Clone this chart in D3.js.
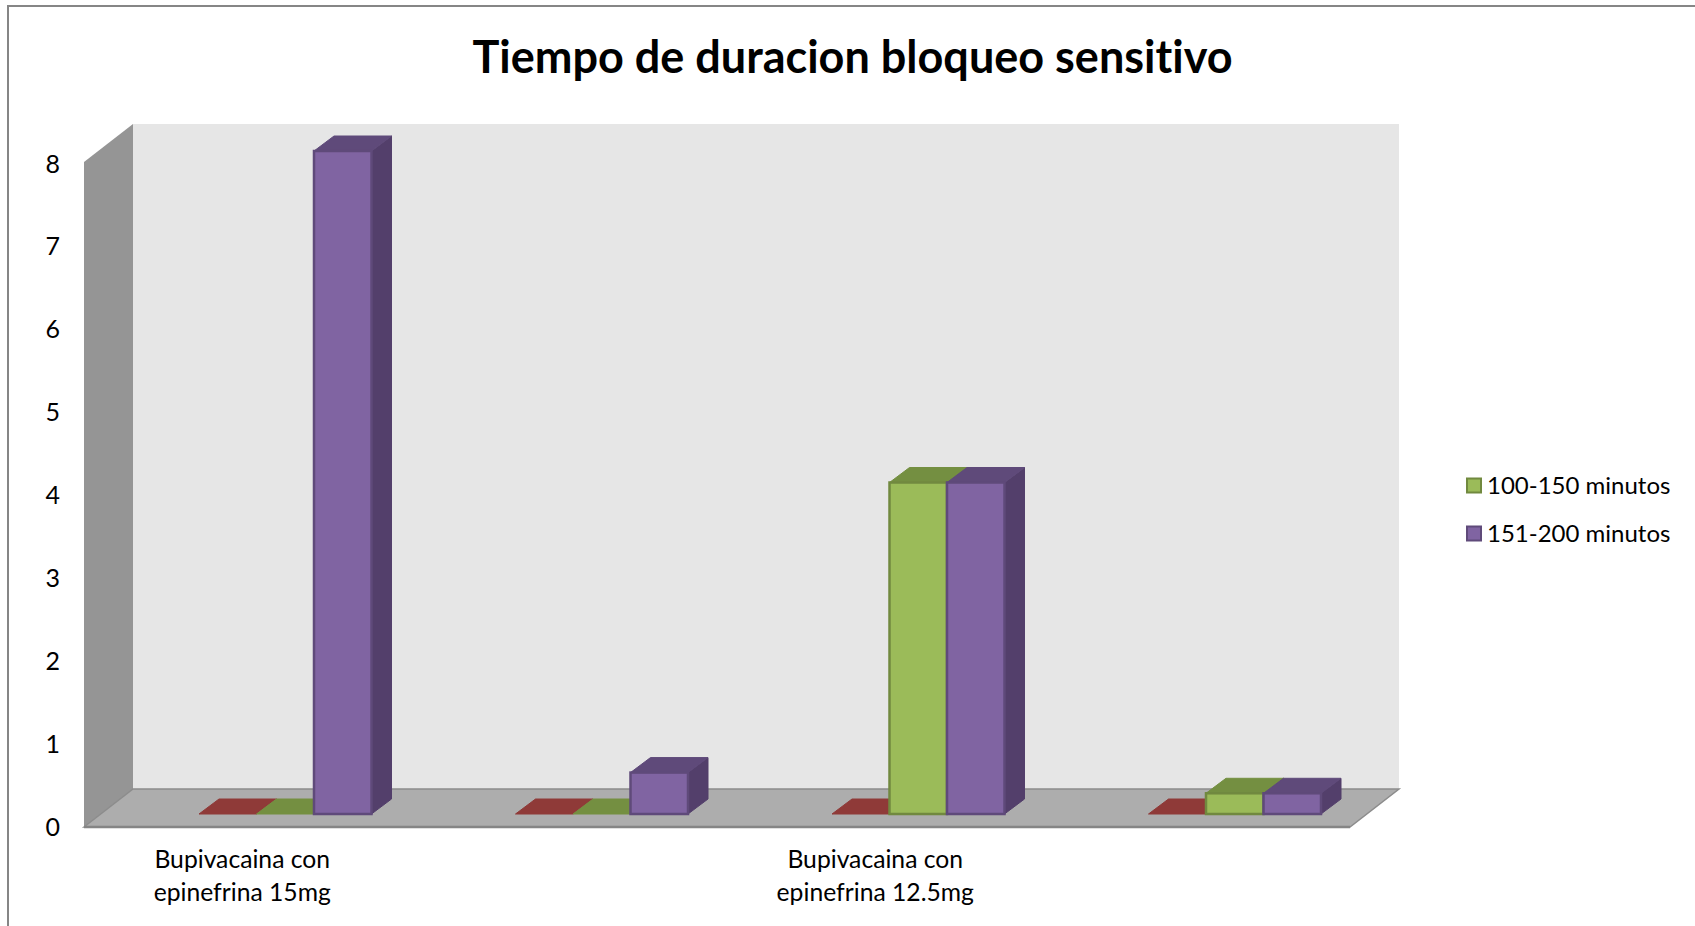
<!DOCTYPE html>
<html>
<head>
<meta charset="utf-8">
<script src="https://cdn.jsdelivr.net/npm/d3@7"></script>
<style>
  body { margin: 0; background: #fff; }
  text { font-family: Lato, "Open Sans", sans-serif; fill: #000; font-variant-ligatures: none; }
</style>
</head>
<body>
<div id="chart"></div>
<script>
const categories = ['cat1', 'cat2', 'cat3', 'cat4'];
const categoryLabels = [
	['Bupivacaina con', 'epinefrina 15mg'],
	[],
	['Bupivacaina con', 'epinefrina 12.5mg'],
	[],
];
const seriesNames = ['Serie 1', '100-150 minutos', '151-200 minutos'];
const redValues = [0, 0, 0, 0];
const greenValues = [0, 0, 4, 0.25];
const purpleValues = [8, 0.5, 4, 0.25];
const yTicks = [0, 1, 2, 3, 4, 5, 6, 7, 8];

const WIDTH = 1695;
const HEIGHT = 926;

// Floor and walls
const FLOOR_LEFT = 84;
const FLOOR_RIGHT = 1350;
const FLOOR_FRONT_Y = 827;
const TOP_FRONT_Y = 164;
const WALL_TOP_FRONT_Y = 162;
const DEPTH_X = 49;
const DEPTH_Y = 38;

// Bars stand a little way back from the front of the floor
const BAR_INSET_X = 43;
const BAR_INSET_Y = 13;
const BAR_DEPTH_X = 20;
const BAR_DEPTH_Y = 15;
const BAR_WIDTH = 57.5;

const colors = [
	{ front: '#c0504d', side: '#7f3735', top: '#8f3a38', stroke: '#a04744' },
	{ front: '#9bbb59', side: '#68803c', top: '#748f41', stroke: '#71893f' },
	{ front: '#8064a2', side: '#533f6b', top: '#5f4a7a', stroke: '#5f4a7a' },
];

const points = pts => pts.map(p => p.join(',')).join(' ');

const svg = d3.select('#chart').append('svg')
	.attr('width', WIDTH)
	.attr('height', HEIGHT)
	.style('display', 'block');

// Outer frame, runs off the right and bottom of the picture
svg.append('path')
	.attr('d', `M8,${HEIGHT + 2}V6H${WIDTH + 2}`)
	.attr('fill', 'none')
	.attr('stroke', '#868686')
	.attr('stroke-width', 2);

svg.append('text')
	.attr('x', 852.5)
	.attr('y', 73)
	.attr('text-anchor', 'middle')
	.style('font-size', '45px')
	.style('font-weight', 700)
	.text('Tiempo de duracion bloqueo sensitivo');

const y = d3.scaleLinear().domain([0, 8]).range([FLOOR_FRONT_Y, TOP_FRONT_Y]);
const x = d3.scaleBand().domain(categories).range([FLOOR_LEFT, FLOOR_RIGHT]);

// Back wall
svg.append('polygon')
	.attr('points', points([
		[FLOOR_LEFT + DEPTH_X, WALL_TOP_FRONT_Y - DEPTH_Y],
		[FLOOR_RIGHT + DEPTH_X, WALL_TOP_FRONT_Y - DEPTH_Y],
		[FLOOR_RIGHT + DEPTH_X, y(0) - DEPTH_Y],
		[FLOOR_LEFT + DEPTH_X, y(0) - DEPTH_Y],
	]))
	.attr('fill', '#e6e6e6');

// Left wall
svg.append('polygon')
	.attr('points', points([
		[FLOOR_LEFT, WALL_TOP_FRONT_Y],
		[FLOOR_LEFT + DEPTH_X, WALL_TOP_FRONT_Y - DEPTH_Y],
		[FLOOR_LEFT + DEPTH_X, y(0) - DEPTH_Y],
		[FLOOR_LEFT, y(0)],
	]))
	.attr('fill', '#959595');

// Floor
svg.append('polygon')
	.attr('points', points([
		[FLOOR_LEFT, y(0)],
		[FLOOR_LEFT + DEPTH_X, y(0) - DEPTH_Y],
		[FLOOR_RIGHT + DEPTH_X, y(0) - DEPTH_Y],
		[FLOOR_RIGHT, y(0)],
	]))
	.attr('fill', '#adadad')
	.attr('stroke', '#8c8c8c')
	.attr('stroke-width', 1.5);

svg.append('line')
	.attr('x1', FLOOR_LEFT)
	.attr('x2', FLOOR_RIGHT)
	.attr('y1', y(0))
	.attr('y2', y(0))
	.attr('stroke', '#858585')
	.attr('stroke-width', 2.5);

// Bars, left to right so each one covers the side of the one before
const valuesBySeries = [redValues, greenValues, purpleValues];
const barHeight = v => y(0) - y(v);

const bars = categories.flatMap((category, categoryIndex) => (
	valuesBySeries.map((values, seriesIndex) => ({
		category,
		seriesIndex,
		value: values[categoryIndex],
	}))
));

const barGroups = svg.selectAll('g.bar')
	.data(bars)
	.enter()
	.append('g')
	.attr('class', 'bar')
	.attr('transform', d => {
		const center = x(d.category) + x.bandwidth() / 2 + BAR_INSET_X;
		const left = center + (d.seriesIndex - 1.5) * BAR_WIDTH;
		return `translate(${left}, ${y(0) - BAR_INSET_Y})`;
	});

barGroups.filter(d => d.value > 0)
	.append('polygon')
	.attr('points', d => points([
		[BAR_WIDTH, 0],
		[BAR_WIDTH + BAR_DEPTH_X, -BAR_DEPTH_Y],
		[BAR_WIDTH + BAR_DEPTH_X, -BAR_DEPTH_Y - barHeight(d.value)],
		[BAR_WIDTH, -barHeight(d.value)],
	]))
	.attr('fill', d => colors[d.seriesIndex].side)
	.attr('stroke', d => colors[d.seriesIndex].side);

barGroups.append('polygon')
	.attr('points', d => points([
		[0, -barHeight(d.value)],
		[BAR_DEPTH_X, -BAR_DEPTH_Y - barHeight(d.value)],
		[BAR_WIDTH + BAR_DEPTH_X, -BAR_DEPTH_Y - barHeight(d.value)],
		[BAR_WIDTH, -barHeight(d.value)],
	]))
	.attr('fill', d => colors[d.seriesIndex].top)
	.attr('stroke', d => colors[d.seriesIndex].top);

barGroups.filter(d => d.value > 0)
	.append('rect')
	.attr('y', d => -barHeight(d.value))
	.attr('width', BAR_WIDTH)
	.attr('height', d => barHeight(d.value))
	.attr('fill', d => colors[d.seriesIndex].front)
	.attr('stroke', d => colors[d.seriesIndex].stroke)
	.attr('stroke-width', 2.5);

// Y axis labels only, no line or ticks
const yAxis = svg.append('g')
	.attr('transform', `translate(${FLOOR_LEFT}, 0)`)
	.call(d3.axisLeft(y).tickValues(yTicks).tickSize(0).tickPadding(24));
yAxis.select('.domain').remove();
yAxis.attr('font-family', null);
yAxis.selectAll('text').style('font-size', '25px');

// Category labels, only every other category has one
const labelGroups = svg.selectAll('text.category')
	.data(categories)
	.enter()
	.append('text')
	.attr('class', 'category')
	.attr('text-anchor', 'middle')
	.style('font-size', '24.7px');

labelGroups.selectAll('tspan')
	.data((d, i) => categoryLabels[i].map(line => ({ line, category: d })))
	.enter()
	.append('tspan')
	.attr('x', d => x(d.category) + x.bandwidth() / 2)
	.attr('y', (d, i) => 868 + i * 33)
	.text(d => d.line);

// Legend, the red series has no entry
const legendSeries = [1, 2];
const legend = svg.selectAll('g.legend')
	.data(legendSeries)
	.enter()
	.append('g')
	.attr('class', 'legend')
	.attr('transform', (d, i) => `translate(1467, ${478.5 + i * 48})`);

legend.append('rect')
	.attr('x', 0)
	.attr('y', 0)
	.attr('width', 14)
	.attr('height', 14)
	.attr('fill', d => colors[d].front)
	.attr('stroke', d => colors[d].stroke)
	.attr('stroke-width', 2);

legend.append('text')
	.attr('x', 20)
	.attr('y', 15)
	.style('font-size', '24px')
	.text(d => seriesNames[d]);
</script>
</body>
</html>
